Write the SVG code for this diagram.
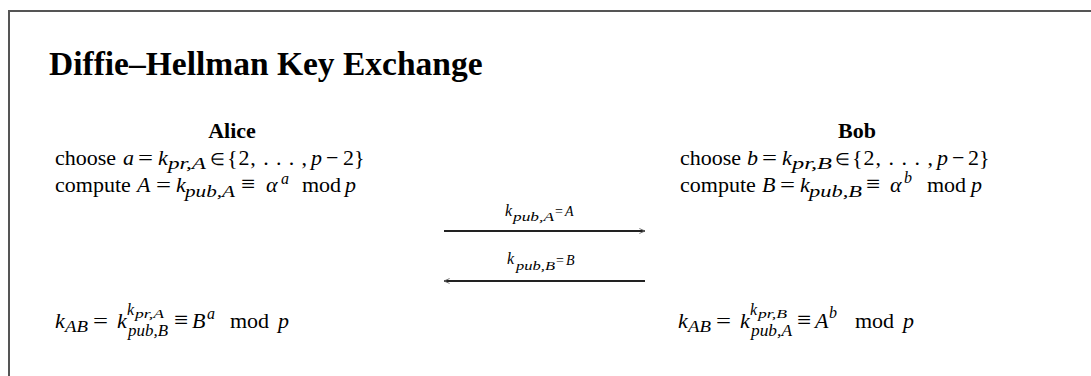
<svg xmlns="http://www.w3.org/2000/svg" width="1091" height="376" viewBox="0 0 1091 376">
  <style>
    text { font-family: "Liberation Serif", "Times New Roman", serif; fill: #000; }
    .title { font-size: 33.5px; font-weight: bold; }
    .name { font-size: 22px; font-weight: bold; text-anchor: middle; }
    .b { font-size: 22px; }
    .eq { font-size: 25px; }
    .i { font-size: 22px; font-style: italic; }
    .el { font-size: 17px; }
    .sub { font-size: 16px; font-style: italic; }
    .sup { font-size: 16px; font-style: italic; }
    .ss { font-size: 12.5px; font-style: italic; }
    .lk { font-size: 16px; font-style: italic; }
    .ls { font-size: 12.5px; font-style: italic; }
    .le { font-size: 14px; }
    .li { font-size: 14px; font-style: italic; }
    .frame { fill: none; stroke: #555; stroke-width: 2; }
    .wire { stroke: #222; stroke-width: 2; fill: none; }
  </style>
  <defs>
    <marker id="head" viewBox="0 0 10 10" refX="9" refY="5" markerWidth="7" markerHeight="7" markerUnits="userSpaceOnUse" orient="auto-start-reverse">
      <path d="M1,1.5 L9,5 L1,8.5" fill="none" stroke="#666" stroke-width="1.3"/>
    </marker>
  </defs>

  <!-- outer frame -->
  <path class="frame" d="M9,380 L9,11 L1095,11"/>

  <text class="title" x="49" y="75">Diffie–Hellman Key Exchange</text>

  <!-- Alice -->
  <g id="alice">
    <text class="name" x="232" y="138">Alice</text>
    <text class="b" x="55" y="165">choose</text>
    <text class="i" x="123" y="165">a</text>
    <text class="b" x="138" y="165" textLength="15" lengthAdjust="spacingAndGlyphs">=</text>
    <text class="i" x="158" y="165">k</text>
    <text class="sub" x="168" y="169" textLength="38" lengthAdjust="spacingAndGlyphs">pr,A</text>
    <text class="el" x="210" y="165">∈</text>
    <text class="b" x="227" y="165" textLength="80" lengthAdjust="spacing">{2, . . . ,</text>
    <text class="i" x="311" y="165">p</text>
    <text class="b" x="326" y="165">−</text>
    <text class="b" x="343" y="165">2}</text>

    <text class="b" x="55" y="192">compute</text>
    <text class="i" x="137" y="192">A</text>
    <text class="b" x="156" y="192" textLength="15" lengthAdjust="spacingAndGlyphs">=</text>
    <text class="i" x="176" y="192">k</text>
    <text class="sub" x="185" y="197" textLength="50" lengthAdjust="spacingAndGlyphs">pub,A</text>
    <text class="eq" x="241" y="192">≡</text>
    <text class="i" x="266" y="192">α</text>
    <text class="sup" x="281" y="184">a</text>
    <text class="b" x="302" y="192">mod</text>
    <text class="i" x="345" y="192">p</text>
  </g>

  <!-- Bob -->
  <g id="bob">
    <text class="name" x="857" y="138">Bob</text>
    <text class="b" x="680" y="165">choose</text>
    <text class="i" x="747" y="165">b</text>
    <text class="b" x="762" y="165" textLength="15" lengthAdjust="spacingAndGlyphs">=</text>
    <text class="i" x="782" y="165">k</text>
    <text class="sub" x="792" y="169" textLength="40" lengthAdjust="spacingAndGlyphs">pr,B</text>
    <text class="el" x="835" y="165">∈</text>
    <text class="b" x="852" y="165" textLength="81" lengthAdjust="spacing">{2, . . . ,</text>
    <text class="i" x="937" y="165">p</text>
    <text class="b" x="952" y="165">−</text>
    <text class="b" x="968" y="165">2}</text>

    <text class="b" x="680" y="192">compute</text>
    <text class="i" x="762" y="192">B</text>
    <text class="b" x="780" y="192" textLength="15" lengthAdjust="spacingAndGlyphs">=</text>
    <text class="i" x="800" y="192">k</text>
    <text class="sub" x="809" y="197" textLength="53" lengthAdjust="spacingAndGlyphs">pub,B</text>
    <text class="eq" x="866" y="192">≡</text>
    <text class="i" x="890" y="192">α</text>
    <text class="sup" x="904" y="183">b</text>
    <text class="b" x="927" y="192">mod</text>
    <text class="i" x="971" y="192">p</text>
  </g>

  <!-- messages -->
  <g id="connectors">
    <line class="wire" x1="444" y1="231" x2="645" y2="231" marker-end="url(#head)"/>
    <line class="wire" x1="444" y1="281" x2="645" y2="281" marker-start="url(#head)"/>
    <text class="lk" x="505" y="216">k</text>
    <text class="ls" x="513" y="221" textLength="41" lengthAdjust="spacingAndGlyphs">pub,A</text>
    <text class="le" x="555" y="216">=</text>
    <text class="li" x="565" y="216">A</text>
    <text class="lk" x="507" y="264">k</text>
    <text class="ls" x="516" y="270" textLength="39" lengthAdjust="spacingAndGlyphs">pub,B</text>
    <text class="le" x="556" y="265">=</text>
    <text class="li" x="566" y="265">B</text>
  </g>

  <!-- shared key, Alice side -->
  <g id="alice-key">
    <text class="i" x="55" y="328">k</text>
    <text class="sub" x="65" y="332" textLength="23" lengthAdjust="spacingAndGlyphs">AB</text>
    <text class="b" x="93" y="328" textLength="15" lengthAdjust="spacingAndGlyphs">=</text>
    <text class="i" x="117" y="328">k</text>
    <text class="sup" x="127" y="315">k</text>
    <text class="ss" x="135" y="318" textLength="29" lengthAdjust="spacingAndGlyphs">pr,A</text>
    <text class="sub" x="128" y="336" textLength="40" lengthAdjust="spacingAndGlyphs">pub,B</text>
    <text class="eq" x="174" y="328">≡</text>
    <text class="i" x="192" y="328">B</text>
    <text class="sup" x="207" y="319">a</text>
    <text class="b" x="230" y="328">mod</text>
    <text class="i" x="278" y="328">p</text>
  </g>

  <!-- shared key, Bob side -->
  <g id="bob-key">
    <text class="i" x="678" y="328">k</text>
    <text class="sub" x="688" y="332" textLength="23" lengthAdjust="spacingAndGlyphs">AB</text>
    <text class="b" x="716" y="328" textLength="15" lengthAdjust="spacingAndGlyphs">=</text>
    <text class="i" x="740" y="328">k</text>
    <text class="sup" x="750" y="315">k</text>
    <text class="ss" x="758" y="318" textLength="29" lengthAdjust="spacingAndGlyphs">pr,B</text>
    <text class="sub" x="751" y="336" textLength="41" lengthAdjust="spacingAndGlyphs">pub,A</text>
    <text class="eq" x="797" y="328">≡</text>
    <text class="i" x="815" y="328">A</text>
    <text class="sup" x="829" y="318">b</text>
    <text class="b" x="855" y="328">mod</text>
    <text class="i" x="903" y="328">p</text>
  </g>
</svg>
